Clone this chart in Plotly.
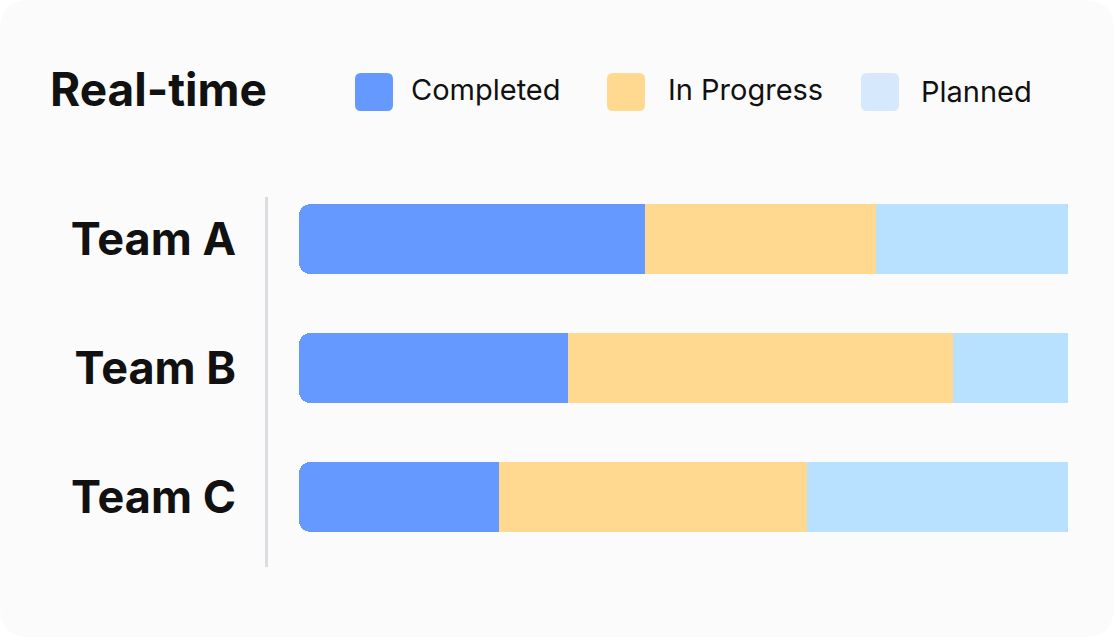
import plotly.graph_objects as go

# ---- data ----
teams = ["Team A", "Team B", "Team C"]
series_names = ["Completed", "In Progress", "Planned"]
completed = [45, 35, 26]
in_progress = [30, 50, 40]
planned = [25, 15, 34]
title_text = "Real-time"

# ---- styles ----
bar_colors = {"Completed": "#6699FF", "In Progress": "#FFD98F", "Planned": "#B8E0FF"}
legend_colors = {"Completed": "#6699FF", "In Progress": "#FFD98F", "Planned": "#D5E8FC"}
TEXT = "#111111"
FONT = "Inter"

W, H = 1116, 641
L, R, T, B = 268, 36, 197, 74
PW, PH = W - L - R, H - T - B


def px(x):
    return (x - L) / PW


def py(y):
    return (H - B - y) / PH


def rrect(x0, y0, x1, y1, r):
    pts = [
        ("M", [(x0 + r, y0)]),
        ("L", [(x1 - r, y0)]),
        ("Q", [(x1, y0), (x1, y0 + r)]),
        ("L", [(x1, y1 - r)]),
        ("Q", [(x1, y1), (x1 - r, y1)]),
        ("L", [(x0 + r, y1)]),
        ("Q", [(x0, y1), (x0, y1 - r)]),
        ("L", [(x0, y0 + r)]),
        ("Q", [(x0, y0), (x0 + r, y0)]),
    ]
    s = ""
    for cmd, ps in pts:
        s += cmd + " " + " ".join(f"{px(a):.5f},{py(b):.5f}" for a, b in ps) + " "
    return s + "Z"


fig = go.Figure()
values = {"Completed": completed, "In Progress": in_progress, "Planned": planned}
# stack leftwards from the right end so the outer (left) end gets rounded corners
for name in reversed(series_names):
    vals = values[name]
    fig.add_trace(go.Bar(
        y=teams, x=[-v for v in vals], orientation="h", name=name,
        marker=dict(color=bar_colors[name], line=dict(width=0)),
        width=0.54, showlegend=False,
        customdata=vals,
        hovertemplate="%{y}<br>" + name + ": %{customdata}%<extra></extra>",
    ))

shapes = [
    dict(type="path", xref="paper", yref="paper", path=rrect(0, 0, 1114, 637, 30),
         fillcolor="#FBFBFB", line=dict(width=0), layer="below"),
]
annotations = [
    dict(text=title_text, xref="paper", yref="paper", x=px(48), y=py(89),
         xanchor="left", yanchor="middle", showarrow=False,
         font=dict(family=FONT, size=46, color=TEXT, weight=700)),
]
legend_sq_x = [355, 607, 861]
legend_tx_x = [411, 668, 921]
for i, name in enumerate(series_names):
    x0 = legend_sq_x[i]
    shapes.append(dict(type="path", xref="paper", yref="paper",
                       path=rrect(x0, 73, x0 + 38, 111, 6),
                       fillcolor=legend_colors[name], line=dict(width=0), layer="above"))
    annotations.append(dict(text=name, xref="paper", yref="paper", x=px(legend_tx_x[i] - 2),
                            y=py(89 + (2 if i == 2 else 0)), xanchor="left", yanchor="middle",
                            showarrow=False,
                            font=dict(family=FONT, size=29, color=TEXT, weight=400)))

fig.update_layout(
    width=W, height=H,
    margin=dict(l=L, r=R, t=T, b=B, pad=0),
    paper_bgcolor="#FFFFFF", plot_bgcolor="rgba(0,0,0,0)",
    barmode="stack", barcornerradius=11,
    shapes=shapes, annotations=annotations,
    showlegend=False,
    xaxis=dict(range=[-104.04, 1.56], visible=False, fixedrange=True),
    yaxis=dict(
        range=[2.543, -0.326], showline=True, linecolor="#DCDDE2", linewidth=3,
        showgrid=False, zeroline=False, ticks="", ticklabelstandoff=20,
        tickfont=dict(family=FONT, size=45, color=TEXT, weight=700), fixedrange=True,
    ),
)

fig.write_html(
    "out.html",
    config={"displayModeBar": False},
    post_script="document.body.style.margin='0';document.body.style.overflow='hidden';",
)
